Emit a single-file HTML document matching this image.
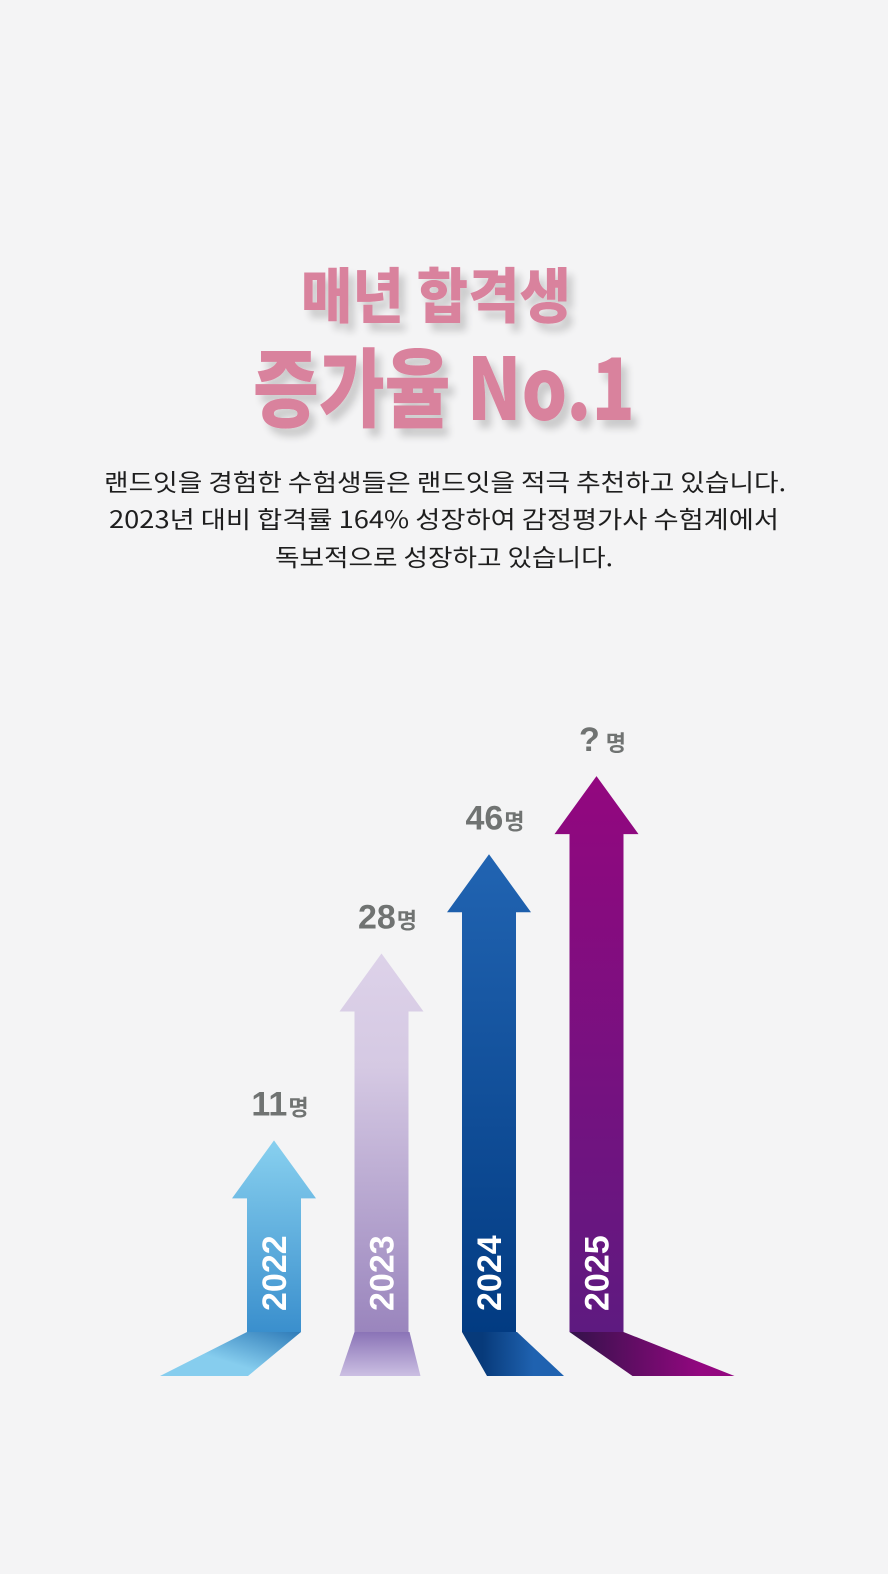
<!DOCTYPE html>
<html><head><meta charset="utf-8">
<style>
html,body{margin:0;padding:0;background:#f4f4f5;}
svg{display:block;}
</style></head>
<body>
<svg id="chart" width="888" height="1574" viewBox="0 0 888 1574" xmlns="http://www.w3.org/2000/svg" font-family="'Liberation Sans','Noto Sans CJK KR',sans-serif">
<defs>
  <filter id="sh" x="-10%" y="-20%" width="130%" height="160%">
    <feGaussianBlur in="SourceAlpha" stdDeviation="4"/>
    <feOffset dx="6" dy="8"/>
    <feComponentTransfer><feFuncA type="linear" slope="0.18"/></feComponentTransfer>
    <feMerge><feMergeNode/><feMergeNode in="SourceGraphic"/></feMerge>
  </filter>
  <linearGradient id="g0" x1="0" y1="0" x2="0" y2="1"><stop offset="0" stop-color="#88d0ef"/><stop offset="1" stop-color="#3a8fcd"/></linearGradient>
  <linearGradient id="g1" x1="0" y1="0" x2="0" y2="1"><stop offset="0" stop-color="#ddd2e9"/><stop offset="0.3" stop-color="#d5c9e3"/><stop offset="1" stop-color="#9a85bd"/></linearGradient>
  <linearGradient id="g2" x1="0" y1="0" x2="0" y2="1"><stop offset="0" stop-color="#2164b2"/><stop offset="1" stop-color="#023b82"/></linearGradient>
  <linearGradient id="g3" x1="0" y1="0" x2="0" y2="1"><stop offset="0" stop-color="#93077f"/><stop offset="1" stop-color="#5e1a80"/></linearGradient>
  <linearGradient id="b0" x1="0" y1="1" x2="1" y2="0"><stop offset="0.4" stop-color="#86cdee"/><stop offset="1" stop-color="#2f7bb8"/></linearGradient>
  <linearGradient id="b1" x1="0" y1="0" x2="0" y2="1"><stop offset="0" stop-color="#8a73b6"/><stop offset="1" stop-color="#cbbfe2"/></linearGradient>
  <linearGradient id="b2" x1="0" y1="0" x2="1" y2="0"><stop offset="0.2" stop-color="#073a7a"/><stop offset="0.7" stop-color="#1f62b0"/></linearGradient>
  <linearGradient id="b3" x1="0" y1="0" x2="1" y2="0"><stop offset="0" stop-color="#33124a"/><stop offset="0.8" stop-color="#930780"/></linearGradient>
</defs>
<rect width="888" height="1574" fill="#f4f4f5"/>
<g filter="url(#sh)" fill="#d9829d" font-weight="900" text-anchor="middle" font-family="'Noto Sans CJK KR','Liberation Sans',sans-serif">
  <text x="436" y="318" font-size="60" textLength="270" lengthAdjust="spacingAndGlyphs">매년 합격생</text>
  <text x="444" y="420" font-size="86" textLength="382" lengthAdjust="spacingAndGlyphs">증가율 No.1</text>
</g>
<g fill="#1e1e1e" font-size="24" text-anchor="middle" font-family="'Noto Sans CJK KR','Liberation Sans',sans-serif">
  <text x="445" y="491" textLength="682" lengthAdjust="spacingAndGlyphs">랜드잇을 경험한 수험생들은 랜드잇을 적극 추천하고 있습니다.</text>
  <text x="444" y="528" textLength="670" lengthAdjust="spacingAndGlyphs">2023년 대비 합격률 164% 성장하여 감정평가사 수험계에서</text>
  <text x="444" y="566" textLength="338" lengthAdjust="spacingAndGlyphs">독보적으로 성장하고 있습니다.</text>
</g>
<g id="arrows"></g>
</svg>
<script>
const years = ['2022','2023','2024','2025'];
const values = [11, 28, 46, 68];
const valueLabels = ['11','28','46','?'];
const ns = 'http://www.w3.org/2000/svg';
const baseY = 1332;
function xCenter(i){ return 274 + i * 107.5; }
function yTip(v){ return baseY - (200 * Math.log(v) - 288); }
const baseShapes = [
  [[-27,0],[27,0],[-26,44],[-114,44]],
  [[-27,0],[28,0],[39,44],[-42,44]],
  [[-27,0],[28,0],[75,44],[-2,44]],
  [[-27,0],[27,0],[138,44],[36,44]]
];
const g = document.getElementById('arrows');
function mk(tag, attrs){ const e=document.createElementNS(ns,tag); for(const k in attrs) e.setAttribute(k,attrs[k]); return e; }
years.forEach((yr,i)=>{
  const cx = xCenter(i), tip = yTip(values[i]), hb = tip + 58;
  const base = mk('polygon',{points: baseShapes[i].map(p=>(cx+p[0])+','+(baseY+p[1])).join(' '), fill:'url(#b'+i+')'});
  
  
  g.appendChild(base);
  const pts = [[cx,tip],[cx+42,hb],[cx+27,hb],[cx+27,baseY],[cx-27,baseY],[cx-27,hb],[cx-42,hb]];
  const ar = mk('polygon',{points: pts.map(p=>p.join(',')).join(' '), fill:'url(#g'+i+')'});
  
  
  g.appendChild(ar);
  const yt = mk('text',{x:0,y:0,fill:'#fff','font-size':'34','font-weight':'bold','text-anchor':'start',transform:'translate('+(cx+12)+',1311) rotate(-90)'});
  yt.textContent = yr;
  
  
  g.appendChild(yt);
  const vt = mk('text',{x:cx+6,y:tip-25,fill:'#707372','font-size':'34','font-weight':'bold','text-anchor':'middle'});
  const t1 = mk('tspan',{}); t1.textContent = valueLabels[i];
  const t2 = mk('tspan',{'font-size':'22','dx': i===3 ? '6' : '1'}); t2.textContent = '명';
  vt.appendChild(t1); vt.appendChild(t2);
  
  
  g.appendChild(vt);
});
</script>
</body></html>
